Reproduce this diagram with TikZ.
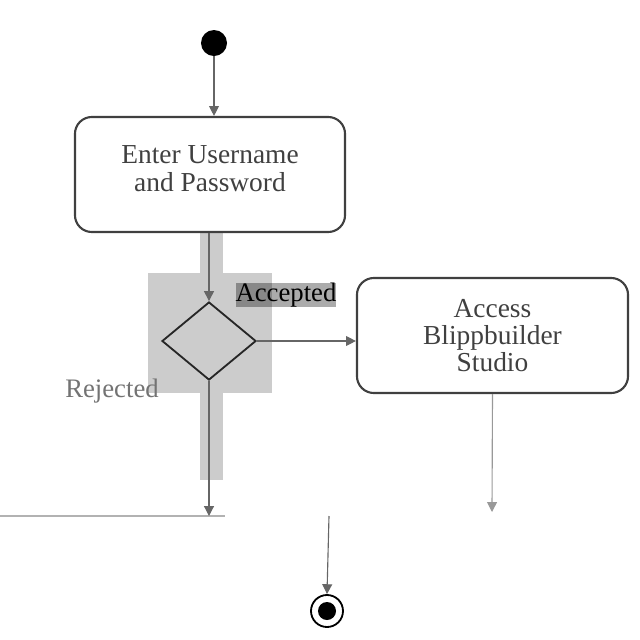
\documentclass[tikz,border=0pt]{standalone}
\usepackage{fontspec}
\setmainfont{Liberation Serif}
\usetikzlibrary{shapes.geometric, arrows.meta}
\tikzset{activity/.style={draw=black!75,line width=1.5pt,rounded corners=12pt,minimum height=2.875cm,align=center,font=\fontsize{19.5}{19.5}\selectfont,text=black!75},
         decision/.style={diamond,draw=black!85,line width=1.3pt,minimum width=2.35cm,minimum height=1.95cm,inner sep=0pt},
         flow/.style={->,draw=black!60,line width=0.8pt},
         >={Triangle[length=7pt,width=7pt]}}

\begin{document}
\begin{tikzpicture}[x=0.025cm,y=-0.025cm]
        \useasboundingbox (0,0) rectangle (640,640);
        % grey patches behind the decision
        \fill[gray!40] (148,273) rectangle (272,393);
        \fill[gray!40] (200,232) rectangle (223,273);
        \fill[gray!40] (200,393) rectangle (223,480);

        \node[circle,fill=black,minimum size=0.65cm](start)at(214,43){};
        \node[activity,minimum width=6.75cm](s1)at(210,174.5){Enter Username\\and Password\vphantom{g}\\[-11pt]};
        \node[decision](d1)at(209,341){};
        \node[activity,minimum width=6.775cm](s2)at(492.5,335.5){Access\\Blippbuilder\\Studio};
        \node[fill=black,fill opacity=0.33,text opacity=1,inner sep=0pt,minimum width=2.45cm,minimum height=0.6cm,font=\fontsize{19}{19}\selectfont](acc)at(286,295){Accepted};
        \node[text=black!55,font=\fontsize{19}{19}\selectfont](rej)at(112,391){Rejected};
        \node[circle,draw,line width=1.3pt,minimum size=0.8cm](fin)at(327,611){};
        \node[circle,fill=black,minimum size=0.45cm](fin1)at(fin){};
        \coordinate(b1)at(0,516);
        \coordinate(b2)at(225,516);
        \coordinate(m2)at(492,512);
        \coordinate(m3)at(329,516);

        \draw[flow](start)--(start|-s1.north);
        \draw[flow](s1.south-|d1)--(d1.north);
        \draw[flow](d1.east)--(d1.east-|s2.west);
        \draw[draw=black!30,line width=0.8pt](b1)--(b2);
        \draw[flow](d1.south)--(d1.south|-b1);
        \draw[flow,draw=black!40](s2.south)--(m2);
        \draw[flow](m3)--(fin.north);
    \end{tikzpicture}
\end{document}
